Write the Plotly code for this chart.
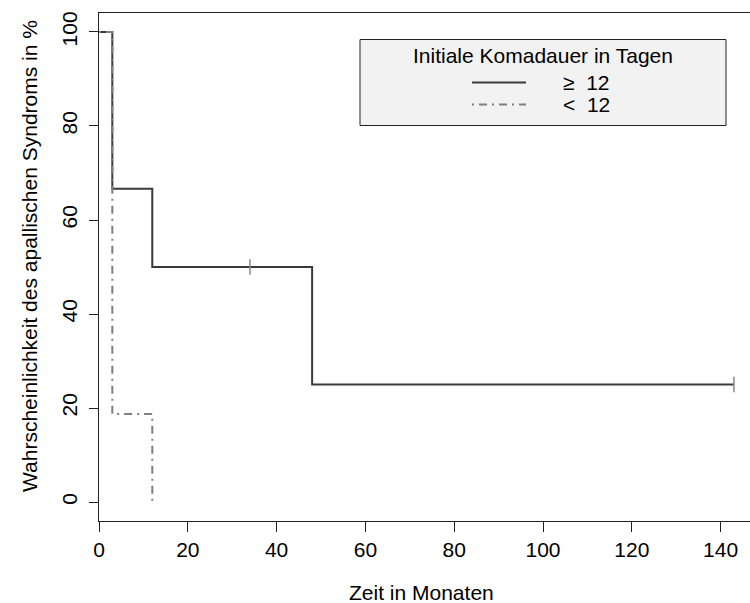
import plotly.graph_objects as go

# ---- data ----
time_ge12 = [0, 3, 12, 48, 143]
surv_ge12 = [100, 66.67, 50, 25, 25]
censor_t_ge12 = [34, 143]
censor_s_ge12 = [50, 25]

time_lt12 = [0, 3, 12]
surv_lt12 = [100, 18.75, 0]

x_ticks = [0, 20, 40, 60, 80, 100, 120, 140]
y_ticks = [0, 20, 40, 60, 80, 100]

legend_title = "Initiale Komadauer in Tagen"
legend_labels = ["\u2265\u00a0\u00a012", "<\u00a0\u00a012"]
x_title = "Zeit in Monaten"
y_title = "Wahrscheinlichkeit des apallischen Syndroms in %"

# ---- layout geometry (pixels) ----
W, H = 750, 603
L, R, T, B = 99, 0, 13, 82
PW, PH = W - L - R, H - T - B
FONT = "Liberation Sans, Arial, sans-serif"
FS = 21


def px(xp):
    return (xp - L) / PW


def py(yp):
    return 1 - (yp - T) / PH


solid_col = "#3a3a3a"
dash_col = "#7f7f7f"
dashdot = "2px,5px,8px,5px"

fig = go.Figure()
fig.add_trace(go.Scatter(x=time_ge12, y=surv_ge12, mode="lines", line_shape="hv",
                         line=dict(color=solid_col, width=2), showlegend=False,
                         hoverinfo="skip"))
fig.add_trace(go.Scatter(x=time_lt12, y=surv_lt12, mode="lines", line_shape="hv",
                         line=dict(color=dash_col, width=2, dash=dashdot),
                         showlegend=False, hoverinfo="skip"))
fig.add_trace(go.Scatter(x=censor_t_ge12, y=censor_s_ge12, mode="markers",
                         marker=dict(symbol="line-ns", size=11,
                                     line=dict(color="#888888", width=1.5)),
                         showlegend=False, hoverinfo="skip"))

shapes = []
annotations = []
# legend box
shapes.append(dict(type="rect", xref="paper", yref="paper",
                   x0=px(360), x1=px(726), y0=py(125.5), y1=py(39.5),
                   fillcolor="#f2f2f2", line=dict(color="#222222", width=1), layer="above"))
shapes.append(dict(type="line", xref="paper", yref="paper",
                   x0=px(472), x1=px(526), y0=py(82.5), y1=py(82.5),
                   line=dict(color=solid_col, width=2)))
shapes.append(dict(type="line", xref="paper", yref="paper",
                   x0=px(472), x1=px(526), y0=py(104.5), y1=py(104.5),
                   line=dict(color=dash_col, width=2, dash=dashdot)))
annotations.append(dict(xref="paper", yref="paper", x=px(543), y=py(56),
                        text=legend_title, showarrow=False, xanchor="center",
                        yanchor="middle", font=dict(family=FONT, size=FS, color="#000")))
for lab, yy in zip(legend_labels, [83, 104]):
    annotations.append(dict(xref="paper", yref="paper", x=px(561), y=py(yy),
                            text=lab, showarrow=False, xanchor="left", yanchor="middle",
                            font=dict(family=FONT, size=FS, color="#000")))
# axis titles
annotations.append(dict(xref="paper", yref="paper", x=px(421), y=py(592),
                        text=x_title, showarrow=False, xanchor="center", yanchor="middle",
                        font=dict(family=FONT, size=FS, color="#000")))
annotations.append(dict(xref="paper", yref="paper", x=px(29), y=py(256),
                        text=y_title, showarrow=False, xanchor="center", yanchor="middle",
                        textangle=-90,
                        font=dict(family=FONT, size=FS, color="#000")))

fig.update_layout(
    width=W, height=H,
    margin=dict(l=L, r=R, t=T, b=B, pad=0),
    paper_bgcolor="white", plot_bgcolor="white",
    font=dict(family=FONT, size=FS, color="#000"),
    shapes=shapes, annotations=annotations,
    xaxis=dict(range=[0, PW / 4.44], tickvals=x_ticks, ticktext=[str(v) for v in x_ticks],
               showgrid=False, zeroline=False, showline=True, linecolor="#222",
               linewidth=1, mirror=True, ticks="outside", ticklen=10, tickcolor="#222",
               tickwidth=1, tickfont=dict(family=FONT, size=FS)),
    yaxis=dict(range=[-4.04, 104.04], tickvals=y_ticks, ticktext=[str(v) for v in y_ticks],
               showgrid=False, zeroline=False, showline=True, linecolor="#222",
               linewidth=1, ticks="outside", ticklen=9, tickcolor="#222", tickwidth=1,
               tickangle=-90, ticklabelstandoff=4, tickfont=dict(family=FONT, size=FS)),
)

fig.write_html("out.html")
